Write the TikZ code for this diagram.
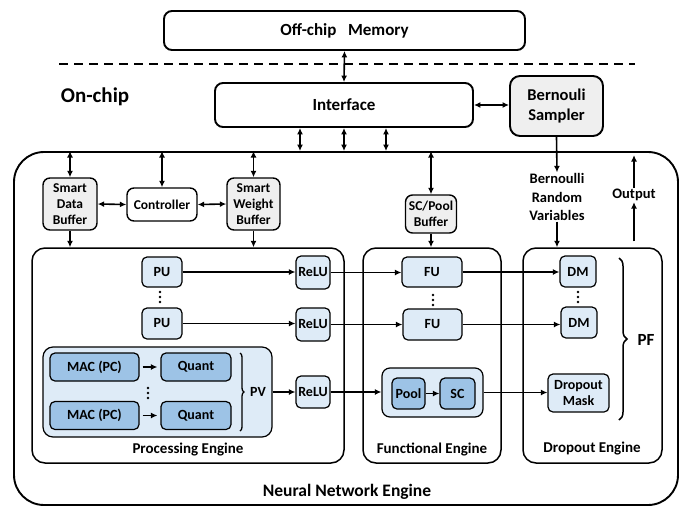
\documentclass[tikz,border=0pt]{standalone}
\usepackage{fontspec}
\setmainfont{Carlito}
\usetikzlibrary{arrows.meta,decorations.pathreplacing}
\definecolor{lblue}{HTML}{DEEBF7}
\definecolor{dblue}{HTML}{9DC3E6}
\definecolor{lgray}{HTML}{EFEFEF}
\begin{document}
\begin{tikzpicture}[x=1pt,y=-1pt,font=\bfseries,
  bigbox/.style={draw,line width=1.9pt,rounded corners=8pt,inner sep=0pt,align=center,font=\bfseries\fontsize{17}{20}\selectfont},
  eng/.style={draw,line width=1.5pt,rounded corners=13pt,inner sep=0pt},
  unitbox/.style={draw,line width=1.2pt,rounded corners=5pt,fill=lblue,inner sep=0pt,align=center,font=\bfseries\fontsize{14}{16.5}\selectfont},
  dunit/.style={unitbox,fill=dblue},
  bufbox/.style={draw,line width=1.4pt,rounded corners=7pt,fill=lgray,inner sep=0pt,align=center,font=\bfseries\fontsize{13.5}{16.3}\selectfont},
  txt/.style={inner sep=1pt,align=center,font=\bfseries\fontsize{14.5}{18.3}\selectfont},
  arr/.style={line width=1.6pt,-{Latex[length=6.5pt,width=6pt]}},
  dbl/.style={line width=1.6pt,{Latex[length=6.5pt,width=6pt]}-{Latex[length=6.5pt,width=6pt]}},
  brc/.style={decorate,line width=1.3pt}]
\useasboundingbox (0,0) rectangle (683,507);

% top level
\node[bigbox,minimum width=361pt,minimum height=39pt] (mem) at (344.5,30.5) {Off-chip\ \ \ Memory};
\draw[line width=1.7pt,dash pattern=on 9pt off 6pt] (59,64) -- (635,64);
\node[inner sep=0pt,font=\bfseries\fontsize{21}{24}\selectfont] (onchip) at (95,97) {On-chip};
\node[bigbox,minimum width=258pt,minimum height=44pt] (iface) at (344,105) {Interface};
\node[bigbox,fill=lgray,rounded corners=10pt,minimum width=93pt,minimum height=60pt,font=\bfseries\fontsize{16.5}{19.5}\selectfont] (bern) at (556.5,106) {Bernouli\\Sampler};
\node[draw,line width=1.9pt,rounded corners=30pt,minimum width=664pt,minimum height=353pt,inner sep=0pt] (nne) at (346,328.5) {};
\node[inner sep=0pt,font=\bfseries\fontsize{17.5}{20}\selectfont] (nnel) at (347,492) {Neural Network Engine};

\draw[dbl] (mem.south) -- (iface.north);
\draw[dbl] (iface.east) -- (iface.east -| bern.west);
\coordinate (b1) at (300,140);
\coordinate (b2) at (344,140);
\coordinate (b3) at (386,140);
\draw[dbl] (b1 |- iface.south) -- (b1 |- nne.north);
\draw[dbl] (b2 |- iface.south) -- (b2 |- nne.north);
\draw[dbl] (b3 |- iface.south) -- (b3 |- nne.north);

% engines
\node[eng,minimum width=312pt,minimum height=215pt] (pe) at (188,355.5) {};
\node[eng,minimum width=138pt,minimum height=215pt] (fe) at (432,355.5) {};
\node[eng,minimum width=139pt,minimum height=215pt] (de) at (592.5,355.5) {};
\node[txt,font=\bfseries\fontsize{15}{18}\selectfont] (pel) at (188,449) {Processing Engine};
\node[txt,font=\bfseries\fontsize{15}{18}\selectfont] (fel) at (432,449) {Functional Engine};
\node[txt,font=\bfseries\fontsize{15}{18}\selectfont] (del) at (592,448) {Dropout Engine};

% buffers and controller
\node[bufbox,minimum width=54pt,minimum height=52pt] (sdb) at (70,204) {Smart\\Data\\Buffer};
\node[bufbox,fill=white,minimum width=70pt,minimum height=33pt] (ctrl) at (162,204.5) {Controller};
\node[bufbox,minimum width=53pt,minimum height=52pt] (swb) at (253.5,204) {Smart\\Weight\\Buffer};
\node[bufbox,minimum width=51pt,minimum height=38pt] (scpb) at (431,214) {SC/Pool\\Buffer};
\draw[dbl] (sdb.north) -- (sdb.north |- nne.north);
\draw[dbl] (ctrl.north) -- (ctrl.north |- nne.north);
\draw[dbl] (swb.north) -- (swb.north |- nne.north);
\draw[dbl] (scpb.north) -- (scpb.north |- nne.north);
\draw[dbl] (sdb.east) -- (ctrl.west);
\draw[dbl] (ctrl.east) -- (swb.west);
\draw[arr] (sdb.south) -- (sdb.south |- pe.north);
\draw[arr] (swb.south) -- (swb.south |- pe.north);
\draw[arr] (scpb.south) -- (scpb.south |- fe.north);

% Bernoulli random variables and output
\node[txt] (brv) at (557,197) {Bernoulli\\Random\\Variables};
\draw[arr] (bern.south) -- (brv.north);
\draw[arr] (brv.south) -- (brv.south |- de.north);
\node[txt] (out) at (634,195) {Output};
\draw[arr,shorten <=6pt] (out.south |- de.north) -- (out.south);
\draw[arr,shorten >=4pt] (out.north) -- (out.north |- nne.north);

% processing engine content
\node[unitbox,minimum width=40pt,minimum height=30pt] (pu1) at (162,272) {PU};
\node[unitbox,minimum width=40pt,minimum height=31pt] (pu2) at (162,323.5) {PU};
\node[unitbox,minimum width=34pt,minimum height=33pt] (relu1) at (313,272.5) {ReLU};
\node[unitbox,minimum width=34pt,minimum height=33pt] (relu2) at (313,324.5) {ReLU};
\node[unitbox,minimum width=34pt,minimum height=32pt] (relu3) at (313,392) {ReLU};
\node[unitbox,rounded corners=10pt,minimum width=229pt,minimum height=90pt] (pv) at (157.5,392) {};
\node[dunit,minimum width=89pt,minimum height=28pt] (mac1) at (94.5,367) {MAC (PC)};
\node[dunit,minimum width=70pt,minimum height=28pt] (q1) at (196,367) {Quant};
\node[dunit,minimum width=89pt,minimum height=28pt] (mac2) at (94.5,415.5) {MAC (PC)};
\node[dunit,minimum width=70pt,minimum height=28pt] (q2) at (196,415.5) {Quant};
\node[txt,font=\bfseries\fontsize{14}{16}\selectfont] (pvl) at (258,392) {PV};
\draw[brc,decoration={brace,amplitude=4pt}] (240,353) -- (240,431);
\draw[arr,line width=1.3pt] ([xshift=3pt]mac1.east) -- ([xshift=-3pt]mac1.east -| q1.west);
\draw[arr,line width=1.3pt] ([xshift=3pt]mac2.east) -- ([xshift=-3pt]mac2.east -| q2.west);
\draw[arr] (pu1.east) -- (pu1.east -| relu1.west);
\draw[arr] (pu2.east) -- (pu2.east -| relu2.west);
\draw[arr] (pv.east) -- (pv.east -| relu3.west);

% functional engine content
\node[unitbox,minimum width=60pt,minimum height=30pt] (fu1) at (432,272) {FU};
\node[unitbox,minimum width=59pt,minimum height=31pt] (fu2) at (432.5,324.5) {FU};
\node[unitbox,rounded corners=8pt,minimum width=101pt,minimum height=49pt] (poolc) at (432.5,392.5) {};
\node[dunit,minimum width=33pt,minimum height=31pt] (pool) at (408.5,393.5) {Pool};
\node[dunit,minimum width=35pt,minimum height=31pt] (sc) at (457.5,393.5) {SC};
\draw[arr,line width=1.3pt] (pool.east) -- (sc.west);
\draw[arr] (relu1.east) -- (relu1.east -| fu1.west);
\draw[arr] (relu2.east) -- (relu2.east -| fu2.west);
\draw[arr] (relu3.east) -- (relu3.east -| poolc.west);

% dropout engine content
\node[unitbox,minimum width=36pt,minimum height=31pt] (dm1) at (578,271.5) {DM};
\node[unitbox,minimum width=36pt,minimum height=31pt] (dm2) at (579,322.5) {DM};
\node[unitbox,minimum width=61pt,minimum height=38pt] (dmask) at (578.5,393) {Dropout\\Mask};
\draw[arr] (fu1.east) -- (fu1.east -| dm1.west);
\draw[arr] (fu2.east) -- (fu2.east -| dm2.west);
\draw[arr] (poolc.east) -- (poolc.east -| dmask.west);
\draw[brc,line width=1.5pt,decoration={brace,amplitude=8pt}] (619,258) -- (619,420);
\node[txt,font=\bfseries\fontsize{17}{20}\selectfont] (pfl) at (646,340) {PF};

% vertical dots
\foreach \x/\y in {160/297,148/393,433/300,578/297}{
  \foreach \d in {-5,0,5} \fill (\x,\y+\d) circle (1.4pt);
}
\end{tikzpicture}
\end{document}
